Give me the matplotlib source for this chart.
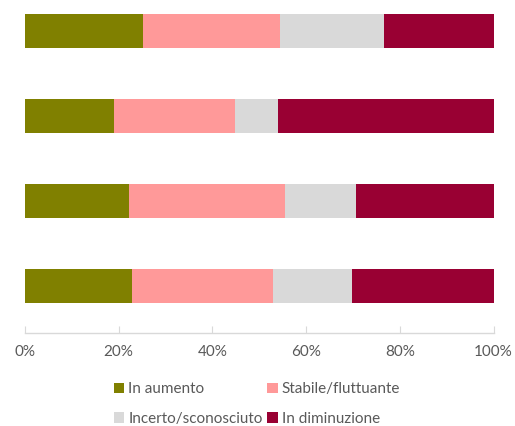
import matplotlib
matplotlib.use("Agg")
import matplotlib.pyplot as plt
from matplotlib.patches import Patch

categories = ["A", "B", "C", "D"]
series_names = ["In aumento", "Stabile/fluttuante", "Incerto/sconosciuto", "In diminuzione"]
in_aumento = [25.2, 19.0, 22.2, 22.9]
stabile = [29.2, 25.9, 33.3, 30.0]
incerto = [22.3, 9.1, 15.2, 17.0]
in_diminuzione = [23.3, 46.0, 29.3, 30.1]
colors = ["#808000", "#FF9999", "#D9D9D9", "#990033"]
xticks = [0, 20, 40, 60, 80, 100]
xticklabels = ["0%", "20%", "40%", "60%", "80%", "100%"]

plt.rcParams['font.family'] = ['Lato', 'DejaVu Sans']

W, H = 515, 426
fig = plt.figure(figsize=(W / 100, H / 100), dpi=100)
left_px, right_px = 25, 493.5
bottom_px = 333
ax = fig.add_axes([left_px / W, 1 - bottom_px / H, (right_px - left_px) / W, bottom_px / H])

ypos = list(range(len(categories)))
left = [0] * len(categories)
for vals, name, c in zip([in_aumento, stabile, incerto, in_diminuzione], series_names, colors):
    ax.barh(ypos, vals, left=left, height=0.4, color=c, label=name, edgecolor='none')
    left = [l + v for l, v in zip(left, vals)]

ax.set_xlim(0, 100)
ax.set_ylim((bottom_px - 31) / 85, -31 / 85)
ax.set_yticks([])
for s in ['top', 'right', 'left']:
    ax.spines[s].set_visible(False)
ax.spines['bottom'].set_color('#D9D9D9')
ax.spines['bottom'].set_linewidth(1)
ax.set_xticks(xticks)
ax.set_xticklabels(xticklabels)
ax.tick_params(axis='x', direction='in', length=5, color='#D9D9D9', labelsize=11,
               labelcolor='#595959', pad=9)

handles = [Patch(facecolor=c, edgecolor='none') for c in colors]
order = [0, 2, 1, 3]
fig.legend([handles[i] for i in order], [series_names[i] for i in order],
           ncol=2, loc='center', bbox_to_anchor=(0.499, 1 - 404 / H),
           frameon=False, fontsize=11, labelcolor='#595959',
           handlelength=0.7, handleheight=0.7, handletextpad=0.25,
           columnspacing=0.3, labelspacing=1.0)

fig.savefig("out.png", dpi=100)
